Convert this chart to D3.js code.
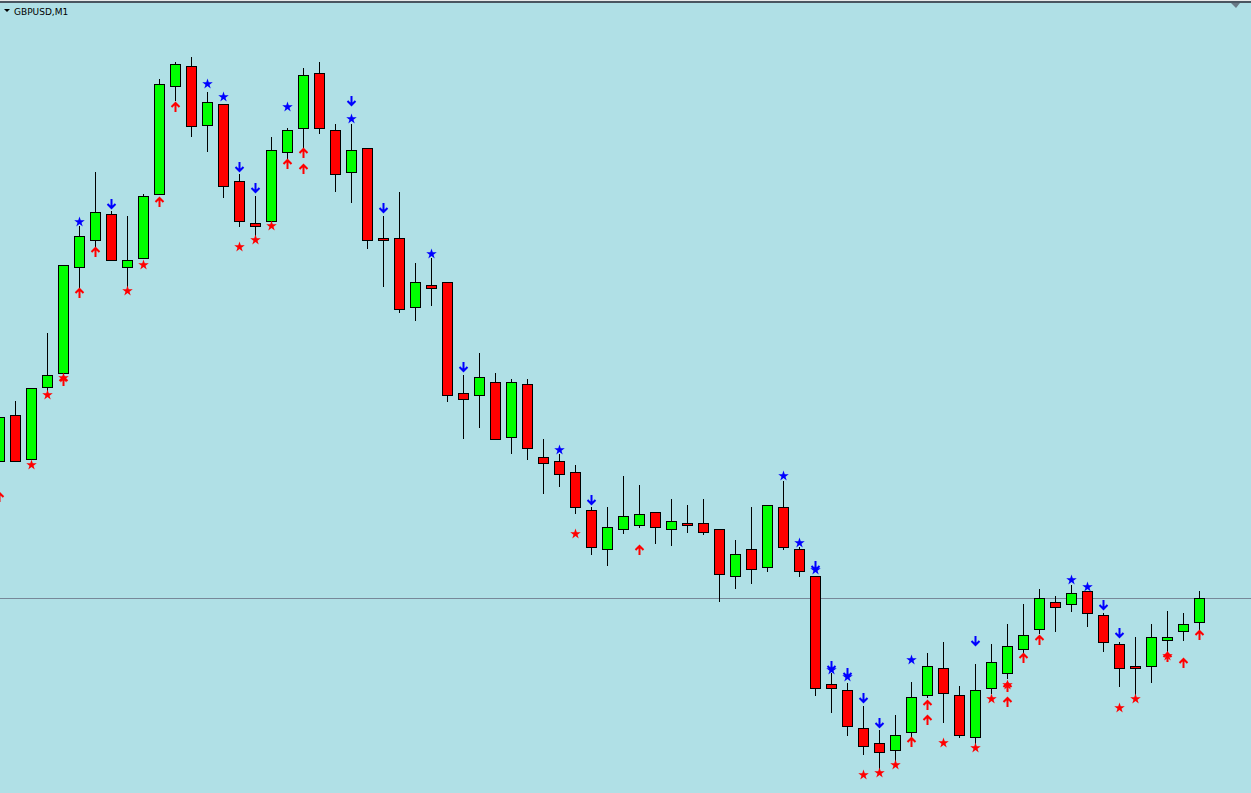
<!DOCTYPE html>
<meta charset="utf-8">
<script src="https://d3js.org/d3.v7.min.js"></script>
<style>
  body { margin: 0; background: #b0e0e6; overflow: hidden; }
</style>
<div id="chart"></div>
<script>

  // symbol / timeframe
  var symbol = "GBPUSD,M1"
  var bidPrice = 1.26502

  // candles, oldest first (bar index = position in the arrays)
  var open  = [1.26639,1.26685,1.26641,1.26713,1.26727,1.26833,1.26860,1.26886,1.26833,1.26842,
               1.26906,1.27014,1.27034,1.26975,1.26996,1.26919,1.26877,1.26879,1.26948,1.26972,
               1.27027,1.26970,1.26928,1.26952,1.26862,1.26862,1.26793,1.26815,1.26818,1.26707,
               1.26705,1.26718,1.26663,1.26716,1.26643,1.26639,1.26628,1.26590,1.26551,1.26571,
               1.26575,1.26588,1.26571,1.26577,1.26577,1.26571,1.26524,1.26551,1.26533,1.26593,
               1.26551,1.26524,1.26416,1.26410,1.26372,1.26357,1.26350,1.26368,1.26405,1.26432,
               1.26405,1.26363,1.26412,1.26427,1.26451,1.26471,1.26498,1.26496,1.26509,1.26485,
               1.26456,1.26434,1.26434,1.26460,1.26469,1.26478]
  var high  = [1.26683,1.26699,1.26712,1.26767,1.26835,1.26874,1.26928,1.26889,1.26884,1.26906,
               1.27021,1.27038,1.27043,1.27008,1.26996,1.26926,1.26904,1.26963,1.26972,1.27032,
               1.27038,1.26976,1.26976,1.26952,1.26884,1.26908,1.26837,1.26842,1.26818,1.26725,
               1.26747,1.26727,1.26721,1.26721,1.26661,1.26646,1.26635,1.26593,1.26593,1.26624,
               1.26615,1.26588,1.26601,1.26595,1.26601,1.26571,1.26560,1.26593,1.26595,1.26619,
               1.26553,1.26524,1.26427,1.26417,1.26394,1.26370,1.26385,1.26418,1.26447,1.26458,
               1.26414,1.26436,1.26456,1.26476,1.26496,1.26511,1.26504,1.26515,1.26509,1.26487,
               1.26458,1.26463,1.26476,1.26489,1.26487,1.26509]
  var low   = [1.26639,1.26639,1.26641,1.26710,1.26727,1.26813,1.26854,1.26840,1.26813,1.26842,
               1.26906,1.27000,1.26964,1.26949,1.26903,1.26874,1.26863,1.26879,1.26942,1.26953,
               1.26967,1.26909,1.26898,1.26852,1.26814,1.26788,1.26780,1.26795,1.26699,1.26662,
               1.26673,1.26661,1.26647,1.26641,1.26607,1.26614,1.26587,1.26546,1.26535,1.26567,
               1.26573,1.26557,1.26555,1.26568,1.26566,1.26499,1.26512,1.26517,1.26529,1.26551,
               1.26524,1.26405,1.26388,1.26365,1.26346,1.26327,1.26338,1.26364,1.26403,1.26378,
               1.26363,1.26357,1.26407,1.26422,1.26448,1.26467,1.26469,1.26489,1.26474,1.26449,
               1.26414,1.26402,1.26418,1.26447,1.26460,1.26470]
  var close = [1.26683,1.26639,1.26712,1.26725,1.26835,1.26864,1.26888,1.26840,1.26840,1.26904,
               1.27016,1.27036,1.26974,1.26998,1.26914,1.26879,1.26874,1.26950,1.26970,1.27025,
               1.26972,1.26926,1.26950,1.26860,1.26860,1.26791,1.26818,1.26812,1.26705,1.26701,
               1.26723,1.26661,1.26718,1.26652,1.26637,1.26626,1.26593,1.26553,1.26573,1.26584,
               1.26586,1.26573,1.26579,1.26575,1.26568,1.26526,1.26546,1.26531,1.26595,1.26553,
               1.26529,1.26412,1.26412,1.26374,1.26354,1.26348,1.26365,1.26403,1.26434,1.26407,
               1.26365,1.26410,1.26438,1.26454,1.26465,1.26502,1.26493,1.26507,1.26487,1.26458,
               1.26432,1.26432,1.26463,1.26463,1.26476,1.26502]

  // indicator signals: [bar index, price]
  var blueStars = [[5,1.26878],[13,1.27016],[14,1.27003],[18,1.26993],[22,1.26981],[27,1.26846],
                   [35,1.26650],[49,1.26624],[50,1.26557],[51,1.26530],[52,1.26430],[53,1.26423],
                   [57,1.26440],[67,1.26520],[68,1.26513]]
  var blueArrows = [[7,1.26896],[15,1.26933],[16,1.26912],[22,1.26999],[24,1.26892],[29,1.26733],
                    [37,1.26600],[51,1.26534],[52,1.26434],[53,1.26427],[54,1.26402],[55,1.26377],
                    [61,1.26459],[69,1.26495],[70,1.26467]]
  var redStars = [[2,1.26635],[3,1.26705],[4,1.26722],[8,1.26809],[9,1.26835],[15,1.26853],
                  [16,1.26860],[17,1.26874],[36,1.26566],[54,1.26325],[55,1.26327],[56,1.26335],
                  [59,1.26357],[61,1.26352],[62,1.26401],[63,1.26415],[70,1.26392],[71,1.26401],
                  [73,1.26444]]
  var redArrows = [[0,1.26603],[4,1.26719],[5,1.26807],[6,1.26848],[10,1.26898],[11,1.26993],
                   [18,1.26936],[19,1.26947],[19,1.26931],[40,1.26550],[57,1.26358],[58,1.26395],
                   [58,1.26380],[63,1.26413],[63,1.26398],[64,1.26442],[65,1.26460],[73,1.26443],
                   [74,1.26437],[75,1.26465]]

  var width = 1251, height = 793

  var bars = open.map(function (o, i) {
    return { i: i, open: o, high: high[i], low: low[i], close: close[i] }
  })

  var svg = d3.select("#chart")
    .append("svg")
    .attr("width", width)
    .attr("height", height)
    .style("display", "block")

  svg.append("rect")
    .attr("width", width).attr("height", height)
    .attr("fill", "#b0e0e6")

  // scales: 16px per bar, 1 point per pixel
  var x = d3.scaleLinear().domain([0, 75]).range([-0.5, 1199.5])
  var y = d3.scaleLinear().domain([1.27100 - height / 100000, 1.27100]).range([height, 0])

  function py(v) { return Math.round(y(v)) }

  // bid line
  svg.append("line")
    .attr("x1", 0).attr("x2", width)
    .attr("y1", py(bidPrice) + 0.5).attr("y2", py(bidPrice) + 0.5)
    .attr("stroke", "#778899")

  // wicks
  svg.selectAll(".wick")
    .data(bars)
    .enter()
    .append("line")
    .attr("x1", function (d) { return x(d.i) })
    .attr("x2", function (d) { return x(d.i) })
    .attr("y1", function (d) { return py(d.high) })
    .attr("y2", function (d) { return py(d.low) + 1 })
    .attr("stroke", "black")

  // bodies
  var bodyHalf = 5
  svg.selectAll(".body")
    .data(bars)
    .enter()
    .append("rect")
    .attr("x", function (d) { return x(d.i) - bodyHalf })
    .attr("y", function (d) { return py(Math.max(d.open, d.close)) + 0.5 })
    .attr("width", bodyHalf * 2)
    .attr("height", function (d) { return Math.max(1, py(Math.min(d.open, d.close)) - py(Math.max(d.open, d.close))) })
    .attr("fill", function (d) { return d.close >= d.open ? "#00ff00" : "#ff0000" })
    .attr("stroke", "black")

  // signal markers
  var star = d3.symbol().type(d3.symbolStar).size(34)
  var upArrow = "M0,5V-4M-4,0L0,-4L4,0"
  var downArrow = "M0,-5V4M-4,0L0,4L4,0"

  function drawStars(data, color) {
    svg.selectAll(null)
      .data(data)
      .enter()
      .append("path")
      .attr("d", star)
      .attr("transform", function (d) { return "translate(" + x(d[0]) + "," + y(d[1]) + ")" })
      .attr("fill", color)
  }

  function drawArrows(data, color, shape) {
    svg.selectAll(null)
      .data(data)
      .enter()
      .append("path")
      .attr("d", shape)
      .attr("transform", function (d) { return "translate(" + x(d[0]) + "," + y(d[1]) + ")" })
      .attr("fill", "none")
      .attr("stroke", color)
      .attr("stroke-width", 2)
  }

  drawStars(blueStars, "#0000ff")
  drawArrows(blueArrows, "#0000ff", downArrow)
  drawStars(redStars, "#ff0000")
  drawArrows(redArrows, "#ff0000", upArrow)

  // window frame at the top
  svg.append("rect").attr("x", 0).attr("y", 0).attr("width", width).attr("height", 1).attr("fill", "#e8e8e8")
  svg.append("rect").attr("x", 0).attr("y", 1).attr("width", width).attr("height", 2).attr("fill", "#4a5560")

  // chart shift marker
  svg.append("path")
    .attr("d", "M1231,3L1240,3L1236,8Z")
    .attr("fill", "#6a7a86")

  // title
  svg.append("path")
    .attr("d", "M4,9L10,9L7,12Z")
    .attr("fill", "black")
  svg.append("text")
    .attr("x", 14)
    .attr("y", 15)
    .attr("font-family", "DejaVu Sans, sans-serif")
    .attr("font-size", 9)
    .attr("fill", "black")
    .text(symbol)

</script>
